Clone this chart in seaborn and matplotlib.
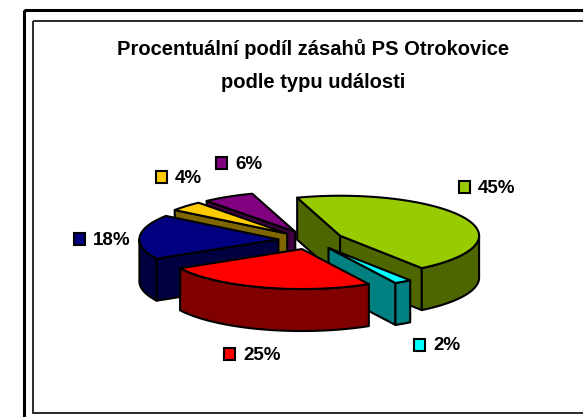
import numpy as np
import matplotlib
matplotlib.use('Agg')
import matplotlib.pyplot as plt
from matplotlib.patches import Polygon, Rectangle
import seaborn as sns

# values, clockwise from the green slice
labels = ['45%', '2%', '25%', '18%', '4%', '6%']
values = [45, 2, 25, 18, 4, 6]
top_colors = ['#99CC00', '#00FFFF', '#FF0000', '#000080', '#FFCC00', '#800080']
side_colors = ['#4D6600', '#008080', '#800000', '#000040', '#806600', '#400040']

# left edge of key square, middle of key square (pixels)
label_pos = [(459, 187), (414, 345), (224, 354), (74, 239), (156, 177), (216, 163)]

# back slices first so the front ones paint over them
draw_order = [5, 4, 3, 0, 1, 2]

start_angle = 108
cx, cy = 311, 240
rx, ry = 139, 40
depth = 42
explode = 0.235

sns.set_theme(style='white')
plt.rcParams['font.family'] = ['Liberation Sans', 'DejaVu Sans']
palette = sns.color_palette(top_colors)

fig = plt.figure(figsize=(5.83, 4.17), dpi=100)
ax = fig.add_axes([0, 0, 1, 1])
ax.set_xlim(0, 583)
ax.set_ylim(417, 0)
ax.axis('off')

# outer and inner frame
ax.add_patch(Rectangle((23.5, 10), 600, 450, fill=False, ec='black', lw=2.2, joinstyle='miter'))
ax.add_patch(Rectangle((32.5, 21), 600, 391.5, fill=False, ec='#2a2a2a', lw=1.4, joinstyle='miter'))

ax.text(313, 49, 'Procentuální podíl zásahů PS Otrokovice', ha='center', va='center',
        fontsize=14.5, fontweight='bold', color='black')
ax.text(313, 82, 'podle typu události', ha='center', va='center',
        fontsize=14.5, fontweight='bold', color='black')

shares = np.array(values) / sum(values) * 360
ends = start_angle - np.cumsum(shares)
starts = ends + shares


def pt(x0, y0, ang):
    a = np.radians(ang)
    return x0 + rx * np.cos(a), y0 - ry * np.sin(a)


for i in draw_order:
    a0, a1 = starts[i], ends[i]
    mid = (a0 + a1) / 2
    ax0, ay0 = pt(cx, cy, mid)
    ax0 = cx + (ax0 - cx) * explode
    ay0 = cy + (ay0 - cy) * explode

    # cut faces, only the ones that look at the viewer
    for ang, show in [(a0, np.cos(np.radians(a0)) < 0), (a1, np.cos(np.radians(a1)) > 0)]:
        if show:
            x1, y1 = pt(ax0, ay0, ang)
            ax.add_patch(Polygon([(ax0, ay0), (x1, y1), (x1, y1 + depth), (ax0, ay0 + depth)],
                                 fc=side_colors[i], ec='black', lw=1.5, joinstyle='round'))

    # curved wall for the front part of the rim
    ang = np.linspace(a0, a1, 80)
    front = ang[np.sin(np.radians(ang)) < 0]
    if len(front) > 1:
        xs, ys = pt(ax0, ay0, front)
        wall = list(zip(xs, ys)) + list(zip(xs[::-1], ys[::-1] + depth))
        ax.add_patch(Polygon(wall, fc=side_colors[i], ec='black', lw=1.5, joinstyle='round'))

    # top of the slice
    xs, ys = pt(ax0, ay0, ang)
    top = [(ax0, ay0)] + list(zip(xs, ys))
    ax.add_patch(Polygon(top, fc=palette[i], ec='black', lw=1.5, joinstyle='round'))

# labels with small colour keys
for i, (lx, ly) in enumerate(label_pos):
    ax.add_patch(Rectangle((lx, ly - 6), 11, 12, fc=palette[i], ec='black', lw=1.5))
    ax.text(lx + 19, ly + 1, labels[i], ha='left', va='center', fontsize=13.5, fontweight='bold', color='black')

plt.savefig('out.png', dpi=100)
